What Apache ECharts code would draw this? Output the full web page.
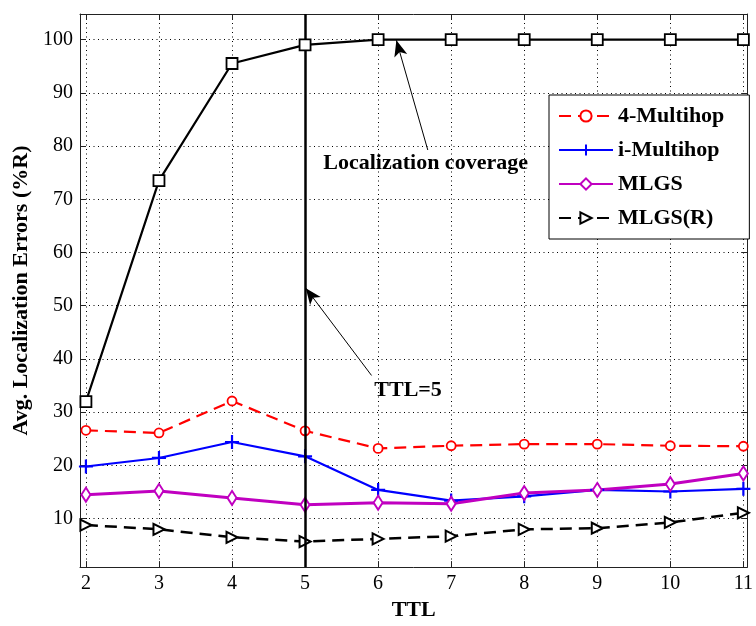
<!DOCTYPE html>
<html>
<head>
<meta charset="utf-8">
<script src="https://cdn.jsdelivr.net/npm/echarts@6/dist/echarts.min.js"></script>
<style>
html,body{margin:0;padding:0;background:#fff;}
#c{width:756px;height:626px;}
</style>
</head>
<body>
<div id="c"></div>
<script>
const ttl = [2, 3, 4, 5, 6, 7, 8, 9, 10, 11];
const coverage = [32, 73.5, 95.5, 99, 100, 100, 100, 100, 100, 100];
const multihop4 = [26.6, 26.1, 32.1, 26.5, 23.2, 23.7, 24.0, 24.0, 23.7, 23.6];
const iMultihop = [19.8, 21.4, 24.4, 21.7, 15.4, 13.4, 14.2, 15.4, 15.1, 15.6];
const mlgs = [14.5, 15.2, 13.9, 12.6, 13.0, 12.8, 14.8, 15.4, 16.5, 18.5];
const mlgsR = [8.8, 8.0, 6.5, 5.7, 6.2, 6.7, 8.0, 8.2, 9.3, 11.1];
const xTicks = [2, 3, 4, 5, 6, 7, 8, 9, 10, 11];
const yTicks = [10, 20, 30, 40, 50, 60, 70, 80, 90, 100];

const FONT = "'Liberation Serif', 'Times New Roman', serif";
const pair = arr => ttl.map((x, i) => [x, arr[i]]);

const chart = echarts.init(document.getElementById('c'), null, {renderer: 'canvas'});

const gridLine = {show: true, lineStyle: {color: '#000', width: 1, type: [1, 3.5]}};
const axLine = {show: true, onZero: false, lineStyle: {color: '#222', width: 1}};
const tick = {show: true, inside: true, length: 6, lineStyle: {color: '#222'}};

const option = {
  backgroundColor: '#fff',
  animation: false,
  grid: {left: 80, right: 1, top: 14, bottom: 52, containLabel: false},
  xAxis: [{
    type: 'value', min: 1.919, max: 11.054, position: 'bottom',
    name: 'TTL', nameLocation: 'middle', nameGap: 30,
    nameTextStyle: {fontFamily: FONT, fontWeight: 'bold', fontSize: 22, color: '#000'},
    axisLine: axLine,
    axisTick: Object.assign({customValues: xTicks}, tick),
    axisLabel: {customValues: xTicks, fontFamily: FONT, fontSize: 20, color: '#000', margin: 7},
    splitLine: gridLine
  }, {
    type: 'value', min: 1.919, max: 11.054, position: 'top',
    axisLine: axLine,
    axisTick: Object.assign({customValues: xTicks}, tick),
    axisLabel: {show: false},
    splitLine: {show: false}
  }],
  yAxis: [{
    type: 'value', min: 0.9, max: 104.8, position: 'left',
    name: 'Avg. Localization Errors (%R)', nameLocation: 'middle', nameGap: 42,
    nameTextStyle: {fontFamily: FONT, fontWeight: 'bold', fontSize: 22, color: '#000'},
    axisLine: axLine,
    axisTick: Object.assign({customValues: yTicks}, tick),
    axisLabel: {customValues: yTicks, fontFamily: FONT, fontSize: 20, color: '#000', margin: 7},
    splitLine: gridLine
  }, {
    type: 'value', min: 0.9, max: 104.8, position: 'right',
    axisLine: axLine,
    axisTick: Object.assign({customValues: yTicks}, tick),
    axisLabel: {show: false},
    splitLine: {show: false}
  }],
  legend: {
    orient: 'vertical', left: 549, top: 95,
    data: ['4-Multihop', 'i-Multihop', 'MLGS', 'MLGS(R)'],
    backgroundColor: '#fff', borderColor: '#000', borderWidth: 1, borderRadius: 0,
    padding: [10, 25, 10, 9], itemGap: 12, itemWidth: 54, itemHeight: 14,
    textStyle: {fontFamily: FONT, fontWeight: 'bold', fontSize: 22, color: '#000', lineHeight: 22}
  },
  series: [
    {
      name: 'Localization coverage', type: 'line', data: pair(coverage),
      symbol: 'rect', symbolSize: 11, showAllSymbol: true,
      itemStyle: {color: '#fff', borderColor: '#000', borderWidth: 1.8},
      lineStyle: {color: '#000', width: 2.2}, z: 5,
      markLine: {
        silent: true, animation: false,
        symbol: ['none', 'arrow'], symbolSize: [10, 16],
        data: [
          [{coord: [6.68, 79.25]}, {coord: [6.25, 99.85]}],
          [{coord: [5.91, 36.9]}, {coord: [5.01, 53.3]}]
        ],
        lineStyle: {color: '#000', width: 1, type: 'solid'},
        label: {show: false}
      },
      markPoint: {
        silent: true, animation: false,
        symbol: 'circle', symbolSize: 0,
        itemStyle: {color: 'rgba(0,0,0,0)'},
        label: {show: true, position: 'inside', fontFamily: FONT, fontWeight: 'bold', fontSize: 22, color: '#000'},
        data: [
          {coord: [6.65, 76.8], value: 'Localization coverage', label: {formatter: 'Localization coverage'}},
          {coord: [6.41, 34.2], value: 'TTL=5', label: {formatter: 'TTL=5'}}
        ]
      }
    },
    {
      name: '4-Multihop', type: 'line', data: pair(multihop4),
      symbol: 'circle', symbolSize: 9,
      itemStyle: {color: '#fff', borderColor: '#ff0000', borderWidth: 1.8},
      lineStyle: {color: '#ff0000', width: 2.2, type: [12, 7]}
    },
    {
      name: 'i-Multihop', type: 'line', data: pair(iMultihop),
      symbol: 'path://M0,5L10,5M5,0L5,10', symbolSize: 14,
      itemStyle: {color: '#0000ff', borderColor: '#0000ff', borderWidth: 2.2},
      lineStyle: {color: '#0000ff', width: 2.2}
    },
    {
      name: 'MLGS', type: 'line', data: pair(mlgs),
      symbol: 'diamond', symbolSize: [9, 14],
      itemStyle: {color: '#fff', borderColor: '#c000c0', borderWidth: 2},
      lineStyle: {color: '#c000c0', width: 3}
    },
    {
      name: 'MLGS(R)', type: 'line', data: pair(mlgsR),
      symbol: 'triangle', symbolRotate: -90, symbolSize: 11,
      itemStyle: {color: '#fff', borderColor: '#000', borderWidth: 2},
      lineStyle: {color: '#000', width: 2.5, type: [12, 7]},
      markLine: {
        silent: true, animation: false, symbol: 'none',
        data: [{xAxis: 5}],
        lineStyle: {color: '#000', width: 2.5, type: 'solid'},
        label: {show: false}
      }
    }
  ]
};
chart.setOption(option);
</script>
</body>
</html>
